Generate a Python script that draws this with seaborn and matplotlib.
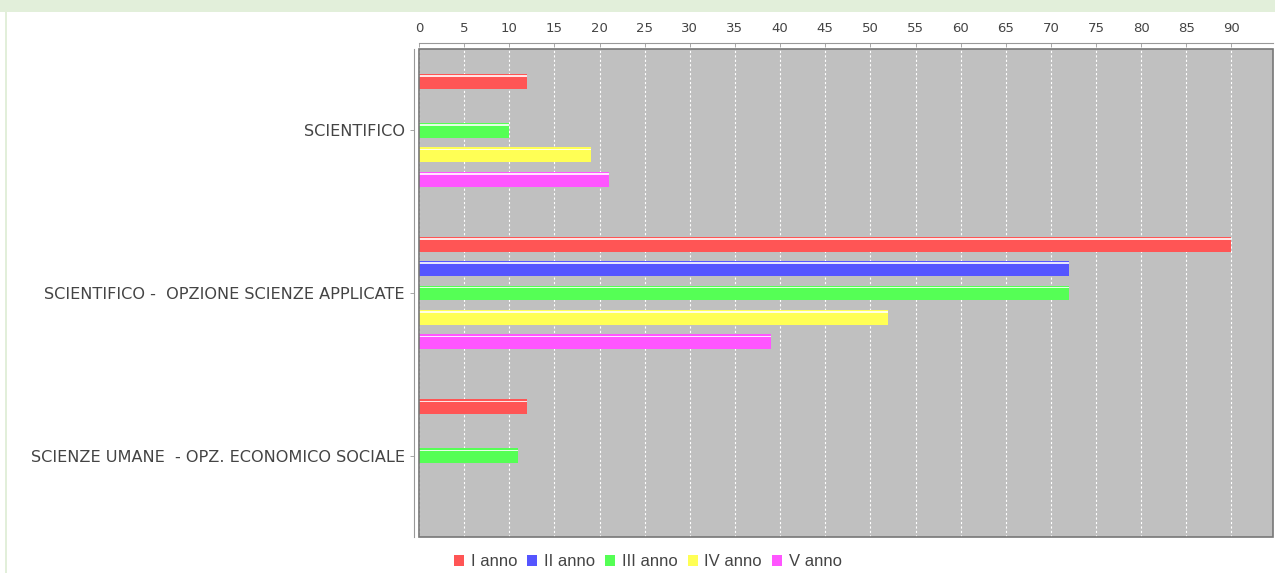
import numpy as np
import pandas as pd
import matplotlib
matplotlib.use("Agg")
import matplotlib.pyplot as plt
import seaborn as sns
from matplotlib.patches import Rectangle, Patch

categories = ["SCIENTIFICO",
              "SCIENTIFICO -  OPZIONE SCIENZE APPLICATE",
              "SCIENZE UMANE  - OPZ. ECONOMICO SOCIALE"]
series = ["I anno", "II anno", "III anno", "IV anno", "V anno"]
values_I = [12, 90, 12]
values_II = [np.nan, 72, np.nan]
values_III = [10, 72, 11]
values_IV = [19, 52, np.nan]
values_V = [21, 39, np.nan]
colors = ["#ff5555", "#5555ff", "#55ff55", "#ffff55", "#ff55ff"]
xticks = list(range(0, 95, 5))

rows = []
for s, vals in zip(series, [values_I, values_II, values_III, values_IV, values_V]):
    for c, v in zip(categories, vals):
        if not np.isnan(v):
            rows.append({"cat": c, "serie": s, "val": v})
df = pd.DataFrame(rows)

sns.set_style("white")
plt.rcParams['font.family'] = ['DejaVu Sans']

fig = plt.figure(figsize=(12.75, 5.73), dpi=100)
# page decoration
fig.patches.append(Rectangle((0, 1 - 12 / 573), 1, 12 / 573, transform=fig.transFigure,
                             facecolor="#e2efda", edgecolor="none", zorder=0))
fig.patches.append(Rectangle((5 / 1275, 0), 2 / 1275, 1 - 12 / 573, transform=fig.transFigure,
                             facecolor="#e2efda", edgecolor="none", zorder=0))

ax = fig.add_axes([419 / 1275, 1 - 537 / 573, (1273 - 419) / 1275, (537 - 49) / 573])
ax.set_facecolor("#c0c0c0")

sns.barplot(data=df, y="cat", x="val", hue="serie", order=categories, hue_order=series,
            palette=colors, orient="h", width=0.75, gap=0.39, ax=ax,
            saturation=1, legend=False, edgecolor="none", zorder=3)

# highlight line on top of each bar (JFreeChart gradient look)
for p in list(ax.patches):
    w = p.get_width()
    if w and w > 0:
        ax.add_patch(Rectangle((p.get_x(), p.get_y() + 0.008), w, 0.01,
                               facecolor="white", edgecolor="none", alpha=0.85, zorder=4))

ax.set_xlim(0, 94.6)
ax.set_ylim(2.5, -0.5)
ax.set_xticks(xticks)
ax.set_xticklabels([str(t) for t in xticks])
ax.xaxis.tick_top()
ax.set_xlabel("")
ax.set_ylabel("")
ax.grid(axis="x", color="white", linestyle=(0, (2, 2)), linewidth=0.8, zorder=1)
ax.grid(axis="y", visible=False)
ax.set_axisbelow(True)

ax.spines["top"].set_position(("outward", 4.3))
ax.spines["left"].set_position(("outward", 3.6))
for side in ["top", "left"]:
    ax.spines[side].set_color("#999999")
    ax.spines[side].set_linewidth(0.8)
ax.spines["right"].set_visible(False)
ax.spines["bottom"].set_visible(False)
ax.add_patch(Rectangle((0, 0), 1, 1, transform=ax.transAxes, fill=False,
                       edgecolor="#777777", linewidth=1.2, zorder=6, clip_on=False))

ax.tick_params(axis="x", top=True, bottom=False, direction="in", length=3, width=0.6,
               color="#999999", labelsize=9.5, labelcolor="#444444", pad=6)
ax.tick_params(axis="y", left=True, direction="out", length=3, width=0.6,
               color="#999999", labelsize=11.6, labelcolor="#444444", pad=3.5)

handles = [Patch(facecolor=c, edgecolor="none") for c in colors]
fig.legend(handles, series, loc="center", bbox_to_anchor=(648 / 1275, 1 - 562 / 573),
           ncol=5, frameon=False, handlelength=0.6, handleheight=0.6,
           handletextpad=0.4, columnspacing=0.6, labelcolor="#444444",
           prop={"family": "Liberation Sans", "size": 12})

fig.savefig("out.png", dpi=100, facecolor="white")
